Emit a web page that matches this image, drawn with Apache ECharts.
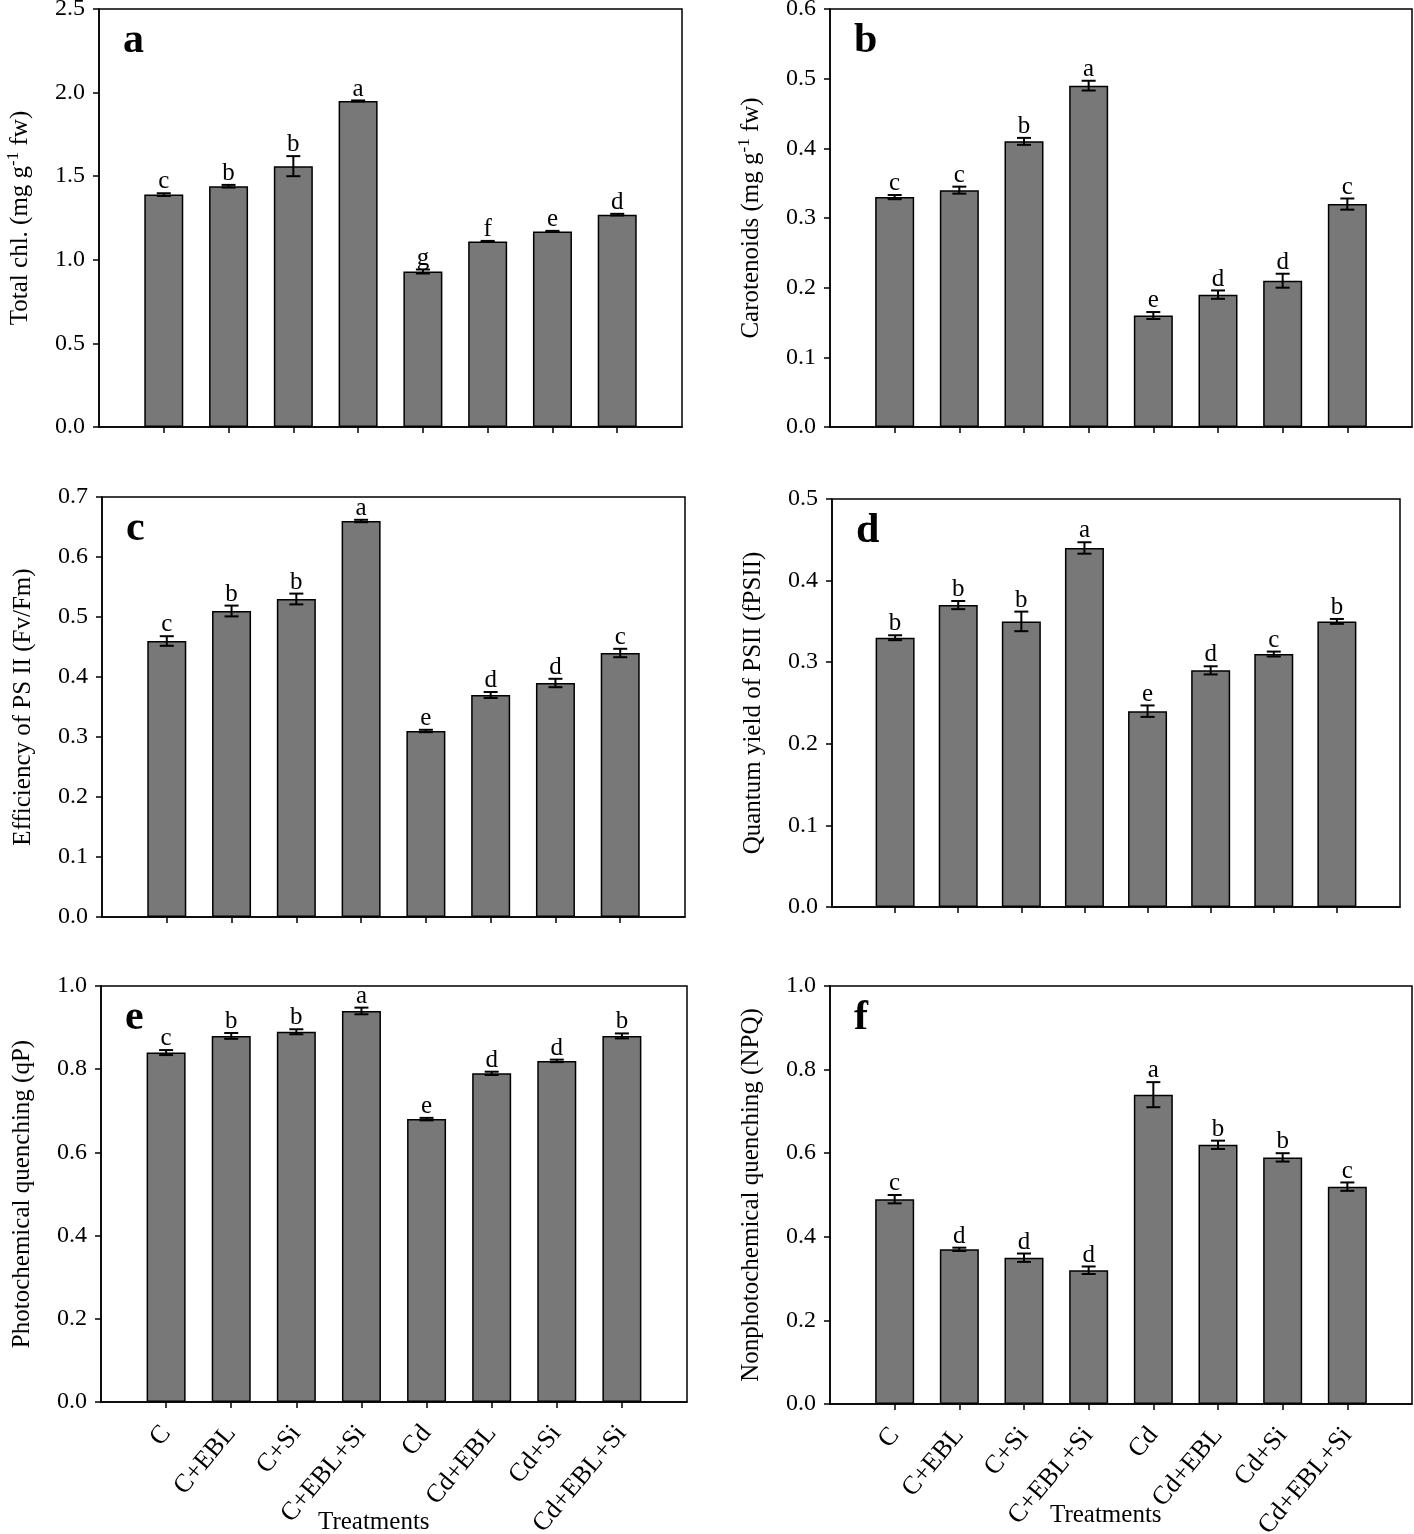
<!DOCTYPE html>
<html><head><meta charset="utf-8">
<script src="https://cdn.jsdelivr.net/npm/echarts@6/dist/echarts.min.js"></script>
<style>html,body{margin:0;padding:0;background:#fff}#c{width:1414px;height:1534px}</style>
</head><body><div id="c"></div>
<script>
// ---- data ----
const categories = ['C','C+EBL','C+Si','C+EBL+Si','Cd','Cd+EBL','Cd+Si','Cd+EBL+Si'];

const totalChl        = [1.39, 1.44, 1.56, 1.95, 0.93, 1.11, 1.17, 1.27];
const totalChlErr     = [0.008, 0.008, 0.06, 0.003, 0.012, 0.003, 0.003, 0.005];
const totalChlLetters = ['c','b','b','a','g','f','e','d'];

const carotenoids        = [0.33, 0.34, 0.41, 0.49, 0.16, 0.19, 0.21, 0.32];
const carotenoidsErr     = [0.003, 0.005, 0.005, 0.007, 0.005, 0.006, 0.01, 0.008];
const carotenoidsLetters = ['c','c','b','a','e','d','d','c'];

const fvfm        = [0.46, 0.51, 0.53, 0.66, 0.31, 0.37, 0.39, 0.44];
const fvfmErr     = [0.008, 0.009, 0.009, 0.002, 0.002, 0.005, 0.007, 0.007];
const fvfmLetters = ['c','b','b','a','e','d','d','c'];

const fpsii        = [0.33, 0.37, 0.35, 0.44, 0.24, 0.29, 0.31, 0.35];
const fpsiiErr     = [0.003, 0.005, 0.012, 0.007, 0.007, 0.005, 0.003, 0.003];
const fpsiiLetters = ['b','b','b','a','e','d','c','b'];

const qP        = [0.84, 0.88, 0.89, 0.94, 0.68, 0.79, 0.82, 0.88];
const qPErr     = [0.006, 0.007, 0.006, 0.008, 0.003, 0.004, 0.003, 0.006];
const qPLetters = ['c','b','b','a','e','d','d','b'];

const npq        = [0.49, 0.37, 0.35, 0.32, 0.74, 0.62, 0.59, 0.52];
const npqErr     = [0.01, 0.004, 0.01, 0.009, 0.03, 0.01, 0.01, 0.01];
const npqLetters = ['c','d','d','d','a','b','b','c'];

const yMax      = [2.5, 0.6, 0.7, 0.5, 1.0, 1.0];
const yInterval = [0.5, 0.1, 0.1, 0.1, 0.2, 0.2];
const panelLetters = ['a','b','c','d','e','f'];
const yTitles = [
  '{t|Total chl. (mg g}{s|-1}{t| fw)}',
  '{t|Carotenoids (mg g}{s|-1}{t| fw)}',
  '{t|Efficiency of PS II (Fv/Fm)}',
  '{t|Quantum yield of PSII (fPSII)}',
  '{t|Photochemical quenching (qP)}',
  '{t|Nonphotochemical quenching (NPQ)}'
];
const xTitle = 'Treatments';

// ---- layout ----
const FONT = '"Liberation Serif", "Times New Roman", serif';
const layout = [
  {left: 99,  top: 9,   width: 583, height: 418},
  {left: 830, top: 9,   width: 582, height: 418},
  {left: 102, top: 497, width: 583, height: 420},
  {left: 832, top: 499, width: 568, height: 408},
  {left: 101, top: 986, width: 586, height: 416},
  {left: 830, top: 986, width: 582, height: 418}
];
const panels = [
  [totalChl, totalChlErr, totalChlLetters],
  [carotenoids, carotenoidsErr, carotenoidsLetters],
  [fvfm, fvfmErr, fvfmLetters],
  [fpsii, fpsiiErr, fpsiiLetters],
  [qP, qPErr, qPLetters],
  [npq, npqErr, npqLetters]
];
const padded = [''].concat(categories, ['']);

function errRender(letters) {
  return function (params, api) {
    const x = api.value(0), v = api.value(1), e = api.value(2);
    const top = api.coord([x, v + e]);
    const bot = api.coord([x, v - e]);
    const cx = top[0], w = 7;
    const ls = {stroke: '#000', lineWidth: 2};
    const children = [];
    if (bot[1] - top[1] > 1) {
      children.push({type: 'line', shape: {x1: cx, y1: top[1], x2: cx, y2: bot[1]}, style: ls});
    }
    children.push({type: 'line', shape: {x1: cx - w, y1: top[1], x2: cx + w, y2: top[1]}, style: ls});
    children.push({type: 'line', shape: {x1: cx - w, y1: bot[1], x2: cx + w, y2: bot[1]}, style: ls});
    children.push({type: 'text', x: cx, y: top[1] + 1,
      style: {text: letters[params.dataIndex], fill: '#000', font: '25px ' + FONT,
              textAlign: 'center', textVerticalAlign: 'bottom'}});
    return {type: 'group', children: children};
  };
}

const grid = [], xAxis = [], yAxis = [], series = [], graphic = [];
layout.forEach((L, k) => {
  const [vals, errs, letters] = panels[k];
  const showX = k >= 4;
  grid.push(Object.assign({show: true, borderColor: '#000', borderWidth: 1.5,
    backgroundColor: 'transparent', containLabel: false, outerBoundsMode: 'none'}, L));
  xAxis.push({
    type: 'category', gridIndex: k, data: padded, boundaryGap: false,
    axisLine: {lineStyle: {color: '#000', width: 1.5}},
    axisTick: {show: true, length: 6, lineStyle: {color: '#000', width: 1.5},
               interval: (i) => i > 0 && i < padded.length - 1},
    axisLabel: {show: showX, interval: 0, rotate: 50, margin: 27, color: '#000',
                fontFamily: FONT, fontSize: 26, hideOverlap: false},
    splitLine: {show: false}
  });
  yAxis.push({
    type: 'value', gridIndex: k, min: 0, max: yMax[k], interval: yInterval[k],
    name: yTitles[k], nameLocation: 'middle', nameGap: 64,
    nameTextStyle: {color: '#000', fontFamily: FONT,
      rich: {t: {fontSize: 25, fontFamily: FONT, color: '#000', lineHeight: 30},
             s: {fontSize: 17, fontFamily: FONT, color: '#000', lineHeight: 17, verticalAlign: 'top'}}},
    axisLine: {show: true, lineStyle: {color: '#000', width: 1.5}},
    axisTick: {show: true, length: 6, lineStyle: {color: '#000', width: 1.5}},
    axisLabel: {color: '#000', fontFamily: FONT, fontSize: 24, margin: 14,
                formatter: (v) => v.toFixed(1)},
    splitLine: {show: false}
  });
  series.push({
    type: 'bar', xAxisIndex: k, yAxisIndex: k, barWidth: 39,
    data: ['-'].concat(vals, ['-']),
    itemStyle: {color: '#787878', borderColor: '#000', borderWidth: 1.5},
    silent: true, animation: false
  });
  series.push({
    type: 'custom', xAxisIndex: k, yAxisIndex: k,
    data: vals.map((v, i) => [i + 1, v, errs[i]]),
    renderItem: errRender(letters), silent: true, animation: false, z: 5
  });
  graphic.push({type: 'text', left: L.left + 24, top: L.top + 11,
    style: {text: panelLetters[k], fill: '#000', font: 'bold 42px ' + FONT}});
});
graphic.push({type: 'text', left: 318, top: 1510, style: {text: xTitle, fill: '#000', font: '25px ' + FONT}});
graphic.push({type: 'text', left: 1050, top: 1503, style: {text: xTitle, fill: '#000', font: '25px ' + FONT}});

const chart = echarts.init(document.getElementById('c'), null, {renderer: 'canvas'});
chart.setOption({animation: false, backgroundColor: '#fff', grid, xAxis, yAxis, series, graphic});
</script>
</body></html>
